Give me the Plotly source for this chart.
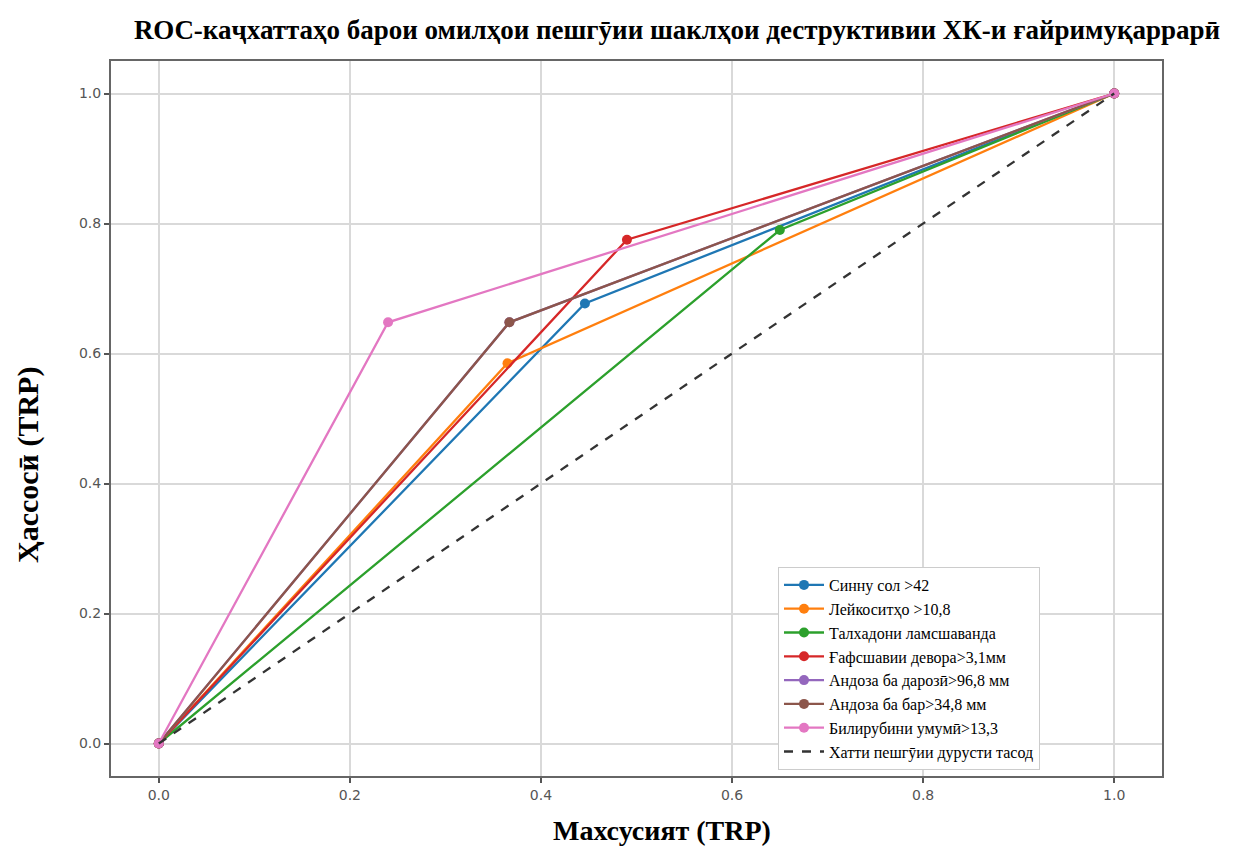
import plotly.graph_objects as go

# ---- data ----
series_names = [
    "Синну сол >42",
    "Лейкоситҳо >10,8",
    "Талхадони ламсшаванда",
    "Ғафсшавии девора>3,1мм",
    "Андоза ба дарозӣ>96,8 мм",
    "Андоза ба бар>34,8 мм",
    "Билирубини умумӣ>13,3",
]
series_colors = ["#1f77b4", "#ff7f0e", "#2ca02c", "#d62728", "#9467bd", "#8c564b", "#e377c2"]
fpr_values = [
    [0.0, 0.446, 1.0],
    [0.0, 0.365, 1.0],
    [0.0, 0.650, 1.0],
    [0.0, 0.490, 1.0],
    [0.0, 0.367, 1.0],
    [0.0, 0.367, 1.0],
    [0.0, 0.240, 1.0],
]
tpr_values = [
    [0.0, 0.677, 1.0],
    [0.0, 0.585, 1.0],
    [0.0, 0.790, 1.0],
    [0.0, 0.775, 1.0],
    [0.0, 0.648, 1.0],
    [0.0, 0.648, 1.0],
    [0.0, 0.648, 1.0],
]
chance_name = "Хатти пешгӯии дурусти тасод"
chance_x = [0.0, 1.0]
chance_y = [0.0, 1.0]
tick_vals = [0.0, 0.2, 0.4, 0.6, 0.8, 1.0]
tick_text = ["0.0", "0.2", "0.4", "0.6", "0.8", "1.0"]

title_text = "ROC-каҷхаттаҳо барои омилҳои пешгӯии шаклҳои деструктивии ХК-и ғайримуқаррарӣ"
x_title = "Махсусият (TRP)"
y_title = "Ҳассосӣ (TRP)"

serif = "Liberation Serif, Times New Roman, serif"
sans = "DejaVu Sans, sans-serif"

# page body has an 8px default margin; compensate
W, H = 1233, 838
L, T, R, B = 103, 53, 79, 70

fig = go.Figure()
for name, color, xs, ys in zip(series_names, series_colors, fpr_values, tpr_values):
    fig.add_trace(go.Scatter(
        x=xs, y=ys, mode="lines+markers", name=name,
        line=dict(color=color, width=2.3),
        marker=dict(color=color, size=10),
    ))
fig.add_trace(go.Scatter(
    x=chance_x, y=chance_y, mode="lines", name=chance_name,
    line=dict(color="#333333", width=2.3, dash="dash"),
))

axis_common = dict(
    tickvals=tick_vals, ticktext=tick_text,
    showgrid=True, gridcolor="#d9d9d9", gridwidth=1.5,
    zeroline=False,
    showline=True, linecolor="#666666", linewidth=2, mirror=True,
    ticks="outside", ticklen=5, tickwidth=1.5, tickcolor="#555555",
    tickfont=dict(family=sans, size=14, color="#555555"),
    automargin=False,
)

pw, ph = W - L - R, H - T - B

fig.update_layout(
    width=W, height=H,
    margin=dict(l=L, r=R, t=T, b=B, autoexpand=False),
    paper_bgcolor="white", plot_bgcolor="white",
    title=dict(text="<b>" + title_text + "</b>", x=(677 - 8) / W, xanchor="center",
               y=1 - (30 - 8) / H, yanchor="middle",
               font=dict(family=serif, size=27, color="black")),
    xaxis=dict(range=[-0.05, 1.05], **axis_common),
    yaxis=dict(range=[-0.05, 1.05], **axis_common),
    legend=dict(x=(778 - 111) / pw, y=(776 - 567) / ph, xanchor="left", yanchor="top",
                bgcolor="white", bordercolor="#cccccc", borderwidth=1,
                font=dict(family=serif, size=16, color="black"),
                tracegroupgap=0, itemwidth=40),
    showlegend=True,
    annotations=[
        dict(text="<b>" + x_title + "</b>", xref="paper", yref="paper",
             x=(662 - 111) / pw, y=(776 - 830) / ph, xanchor="center", yanchor="middle",
             showarrow=False, font=dict(family=serif, size=28, color="black")),
        dict(text="<b>" + y_title + "</b>", xref="paper", yref="paper",
             x=(28 - 111) / pw, y=(776 - 465) / ph, xanchor="center", yanchor="middle",
             textangle=-90, showarrow=False, font=dict(family=serif, size=30, color="black")),
    ],
)

fig.write_html("out.html")
